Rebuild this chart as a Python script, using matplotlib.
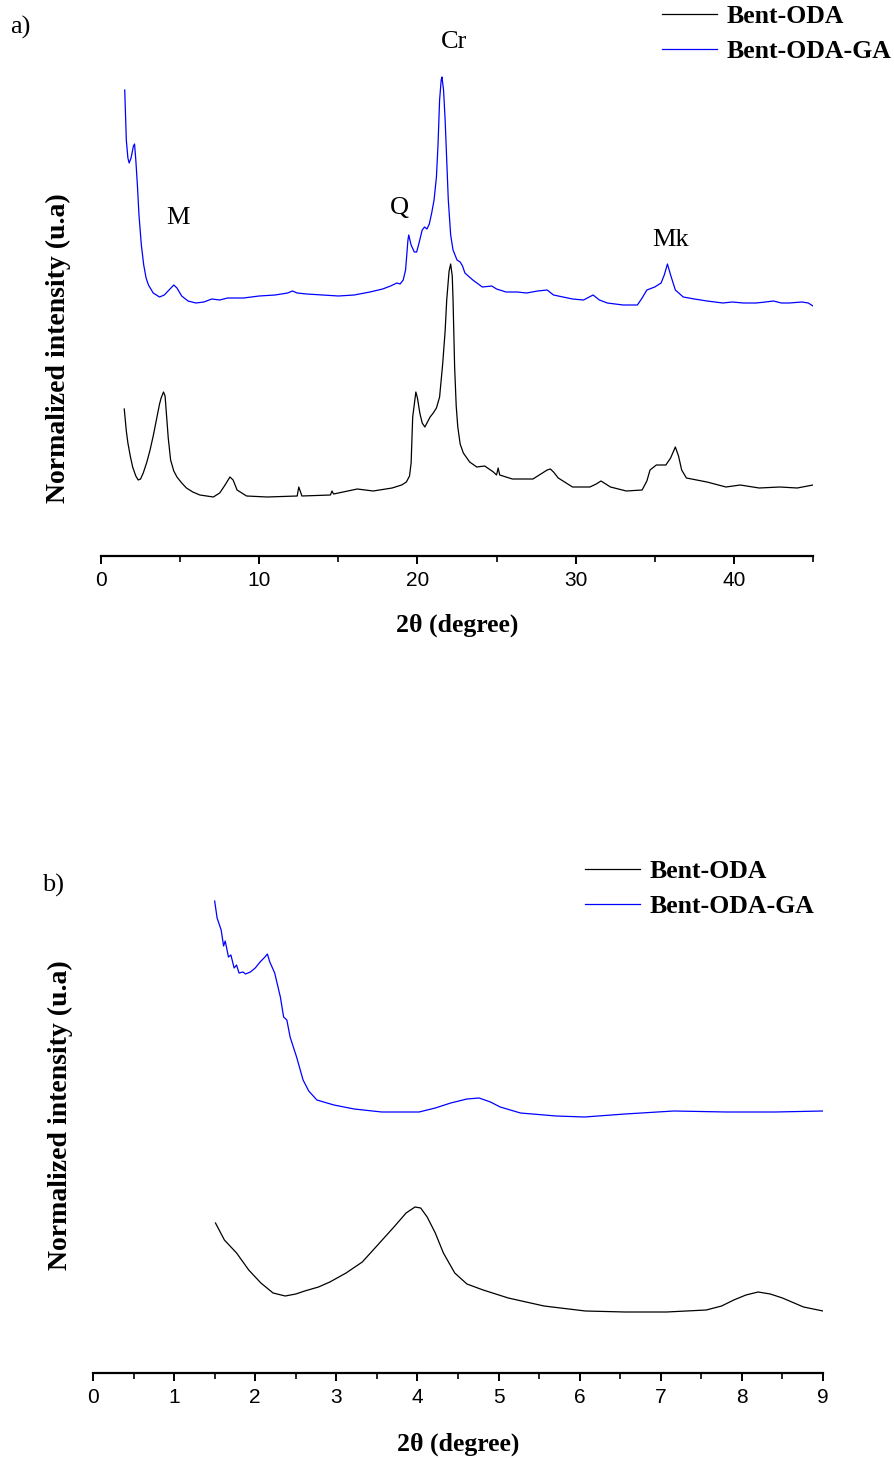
import matplotlib
matplotlib.use("Agg")
import matplotlib.pyplot as plt
from matplotlib.ticker import MultipleLocator

# ---- panel a) : full 2theta range ----
a_oda_x = [1.47, 1.6, 1.7, 1.85, 2.0, 2.2, 2.35, 2.5, 2.67, 2.9, 3.1, 3.3, 3.5, 3.7, 3.8, 3.95,
           4.05, 4.15, 4.25, 4.4, 4.6, 4.8, 5.1, 5.4, 5.8, 6.25, 7.1, 7.5, 7.8, 8.15, 8.35, 8.6,
           9.2, 10.5, 12.4, 12.5, 12.7, 14.5, 14.6, 14.7, 16.2, 17.2, 18.4, 19.0, 19.3, 19.5,
           19.6, 19.7, 19.9, 20.0, 20.15, 20.3, 20.47, 20.6, 20.8, 21.0, 21.2, 21.4, 21.6, 21.75,
           21.85, 22.0, 22.1, 22.2, 22.25, 22.35, 22.45, 22.55, 22.7, 22.9, 23.3, 23.75, 24.25,
           24.8, 25.0, 25.1, 25.2, 26.0, 27.3, 27.9, 28.2, 28.4, 28.6, 28.9, 29.8, 30.9, 31.3,
           31.6, 31.9, 32.2, 33.2, 34.2, 34.5, 34.7, 35.1, 35.7, 36.0, 36.3, 36.5, 36.7, 37.0,
           38.3, 39.5, 40.4, 41.6, 42.9, 44.0, 45.0]
a_oda_y = [147, 125, 113, 100, 89, 80, 76, 77, 83, 94, 106, 120, 136, 152, 158, 164,
           160, 139, 118, 96, 85, 79, 73, 68, 64, 61, 59, 63, 70, 79, 76, 66,
           60, 59, 60, 69, 60, 61, 65, 62, 67, 65, 68, 71, 74, 80,
           93, 139, 164, 158, 143, 133, 129, 133, 139, 143, 148, 159, 193, 225,
           256, 285, 292, 280, 256, 189, 150, 129, 112, 103, 94, 89, 90,
           84, 81, 88, 81, 77, 77, 83, 86, 87, 84, 78, 69, 69, 72,
           75, 72, 69, 65, 66, 75, 86, 91, 91, 98, 109, 100, 86, 78,
           74, 69, 71, 68, 69, 68, 71]

a_ga_x = [1.5, 1.55, 1.6, 1.7, 1.78, 1.9, 2.05, 2.12, 2.2, 2.3, 2.4, 2.55, 2.7, 2.85, 3.0, 3.3,
          3.7, 4.0, 4.3, 4.6, 4.8, 5.1, 5.5, 6.0, 6.5, 7.0, 7.5, 8.0, 9.0, 10.0, 11.0, 11.8,
          12.1, 12.4, 13.0, 14.0, 15.0, 16.0, 17.0, 17.8, 18.3, 18.7, 18.9, 19.1, 19.25, 19.4,
          19.45, 19.6, 19.8, 19.95, 20.1, 20.3, 20.45, 20.6, 20.75, 20.9, 21.05, 21.2, 21.3,
          21.4, 21.5, 21.55, 21.65, 21.75, 21.85, 21.95, 22.1, 22.25, 22.5, 22.7, 22.85, 23.0,
          23.5, 24.1, 24.7, 25.0, 25.6, 26.3, 26.9, 27.6, 28.2, 28.6, 29.2, 29.8, 30.5, 31.1,
          31.5, 32.0, 33.0, 33.9, 34.2, 34.5, 35.0, 35.4, 35.6, 35.8, 36.0, 36.3, 36.8, 37.5,
          38.3, 39.3, 39.9, 40.6, 41.4, 42.0, 42.5, 43.0, 43.5, 44.3, 44.7, 45.0]
a_ga_y = [466, 441, 416, 398, 393, 398, 410, 412, 396, 371, 341, 311, 291, 278, 271, 263,
          259, 261, 266, 271, 268, 260, 255, 253, 254, 257, 256, 258, 258, 260, 261, 263,
          265, 263, 262, 261, 260, 261, 264, 267, 270, 273, 272, 276, 286, 316,
          321, 311, 304, 304, 313, 326, 329, 327, 332, 343, 356, 379, 411,
          456, 476, 479, 466, 436, 396, 356, 321, 306, 296, 294, 290, 283,
          276, 269, 270, 267, 264, 264, 263, 265, 266, 261, 259, 257, 256, 261,
          256, 253, 251, 251, 258, 266, 269, 273, 281, 292, 281, 266, 259, 257,
          255, 253, 254, 253, 253, 254, 255, 253, 253, 254, 253, 250]

# ---- panel b) : low angle zoom ----
b_oda_x = [1.51, 1.62, 1.77, 1.92, 2.07, 2.22, 2.37, 2.5, 2.61, 2.78, 2.92, 3.12, 3.32, 3.51,
           3.71, 3.86, 3.97, 4.04, 4.12, 4.22, 4.32, 4.46, 4.61, 4.81, 5.12, 5.56, 6.07, 6.56,
           7.07, 7.56, 7.75, 7.9, 8.05, 8.2, 8.35, 8.5, 8.76, 9.0]
b_oda_y = [150, 133, 120, 103, 90, 80, 77, 79, 82, 86, 91, 100, 111, 128,
           146, 160, 166, 165, 156, 140, 120, 100, 89, 83, 75, 67, 62, 61,
           61, 63, 67, 73, 78, 81, 79, 75, 66, 62]

b_ga_x = [1.50, 1.53, 1.58, 1.61, 1.63, 1.67, 1.70, 1.74, 1.77, 1.80, 1.85, 1.88, 1.94, 2.00,
          2.06, 2.12, 2.15, 2.18, 2.24, 2.31, 2.35, 2.39, 2.43, 2.51, 2.59, 2.66, 2.76, 2.97,
          3.22, 3.56, 4.02, 4.22, 4.41, 4.61, 4.76, 4.9, 5.02, 5.27, 5.71, 6.06, 6.56, 7.16,
          7.81, 8.41, 9.0]
b_ga_y = [472, 455, 443, 427, 432, 416, 418, 405, 408, 400, 401, 399, 401, 405,
          411, 416, 419, 411, 400, 376, 356, 353, 336, 316, 293, 282, 273, 268,
          264, 261, 261, 265, 270, 274, 275, 271, 266, 260, 257, 256, 259, 262,
          261, 261, 262]

labels = ["Bent-ODA", "Bent-ODA-GA"]
colors = ["black", "blue"]

serif = "Liberation Serif"
tickfont = ["Liberation Sans Narrow", "Liberation Sans", "DejaVu Sans"]

W, H = 894, 1458
fig = plt.figure(figsize=(W / 100, H / 100), dpi=100)


def px_axes(left, right, top, bottom):
    return fig.add_axes([left / W, 1 - bottom / H, (right - left) / W, (bottom - top) / H])


def style_axis(ax, xmax, major, minor, ymax):
    ax.set_xlim(0, xmax)
    ax.set_ylim(0, ymax)
    for s in ["left", "right", "top"]:
        ax.spines[s].set_visible(False)
    ax.spines["bottom"].set_linewidth(1.6)
    ax.set_yticks([])
    ax.xaxis.set_major_locator(MultipleLocator(major))
    ax.xaxis.set_minor_locator(MultipleLocator(minor))
    ax.tick_params(axis="x", which="major", direction="out", length=6, width=1.4, pad=5)
    ax.tick_params(axis="x", which="minor", direction="out", length=4, width=1.2)
    for t in ax.get_xticklabels():
        t.set_family(tickfont)
        t.set_fontsize(15)
    ax.set_xlabel("2θ (degree)", fontfamily=serif, fontweight="bold", fontsize=18.5)
    ax.set_ylabel("Normalized intensity (u.a)", fontfamily=serif, fontweight="bold", fontsize=20)


leg_kw = dict(loc="center left", bbox_transform=fig.transFigure, frameon=False,
              handlelength=2.15, handletextpad=0.35, labelspacing=0.45, borderpad=0,
              prop=dict(family=serif, weight="bold", size=18.5))

# panel a
ax1 = px_axes(101, 813, 60, 556)
ax1.plot(a_oda_x, a_oda_y, color=colors[0], lw=0.9, label=labels[0])
ax1.plot(a_ga_x, a_ga_y, color=colors[1], lw=0.9, label=labels[1])
style_axis(ax1, 45, 10, 5, 496)
ax1.xaxis.set_label_coords(0.5, -0.117)
ax1.yaxis.set_label_coords(-0.042, 0.42)
ax1.legend(bbox_to_anchor=(649 / W, 1 - 34 / H), **leg_kw)
fig.text(10 / W, 1 - 27 / H, "a)", family=serif, fontsize=19, va="center", ha="left")
for txt, tx, ty in [("M", 4.85, 338), ("Q", 18.85, 348), ("Cr", 22.3, 514), ("Mk", 36.0, 316)]:
    ax1.text(tx, ty, txt, family=serif, fontsize=19, ha="center", va="center", clip_on=False)

# panel b
ax2 = px_axes(93, 823, 880, 1373)
ax2.plot(b_oda_x, b_oda_y, color=colors[0], lw=0.9, label=labels[0])
ax2.plot(b_ga_x, b_ga_y, color=colors[1], lw=0.9, label=labels[1])
style_axis(ax2, 9, 1, 0.5, 493)
ax2.xaxis.set_label_coords(0.5, -0.12)
ax2.yaxis.set_label_coords(-0.028, 0.523)
ax2.legend(bbox_to_anchor=(572 / W, 1 - 889 / H), **leg_kw)
fig.text(42 / W, 1 - 885 / H, "b)", family=serif, fontsize=19, va="center", ha="left")

fig.savefig("out.png", dpi=100)
